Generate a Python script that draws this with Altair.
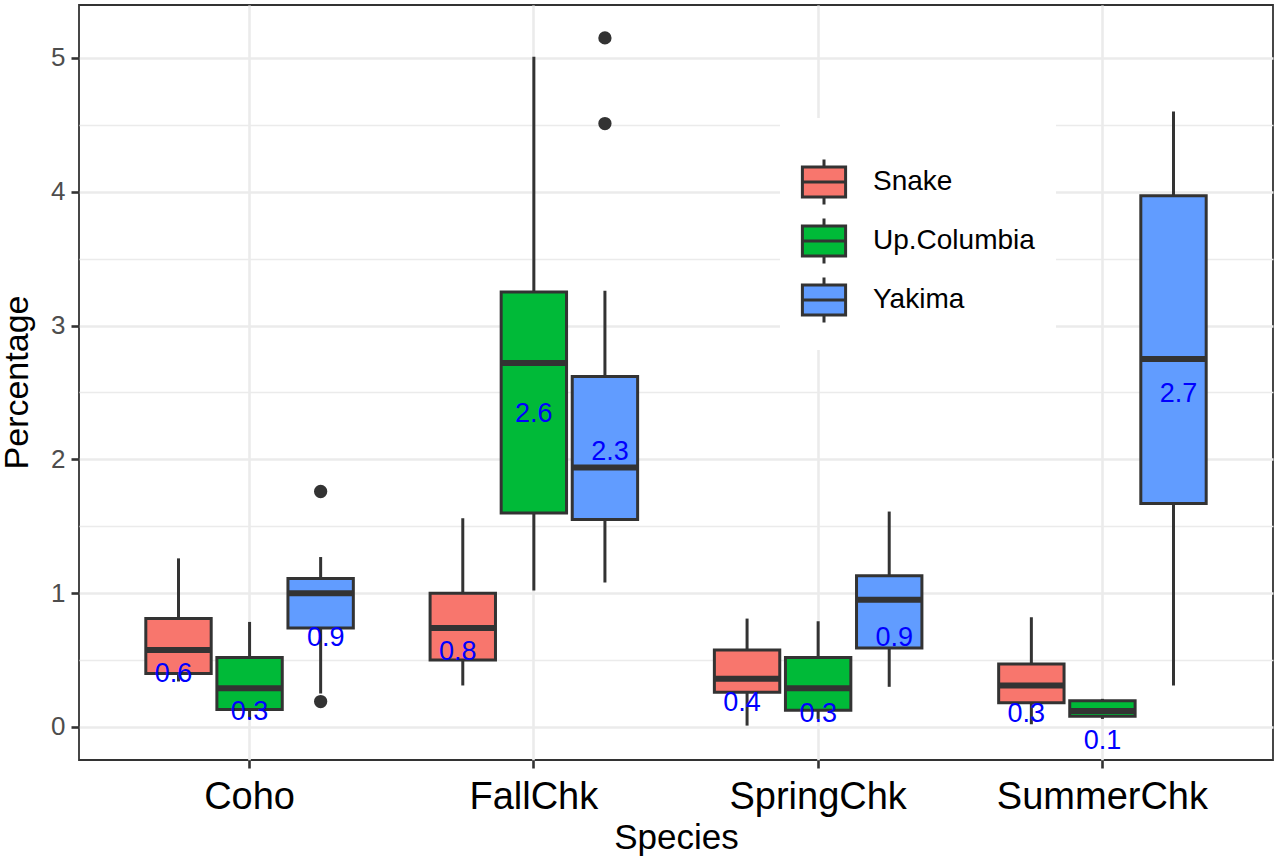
import altair as alt
import pandas as pd

species = ["Coho", "FallChk", "SpringChk", "SummerChk"]
groups = ["Snake", "Up.Columbia", "Yakima"]
colors = ["#F8766D", "#00BA38", "#619CFF"]

box_species = ["Coho"] * 3 + ["FallChk"] * 3 + ["SpringChk"] * 3 + ["SummerChk"] * 3
box_group = groups * 4
whisker_low = [0.34, 0.06, 0.25, 0.31, 1.02, 1.08, 0.01, 0.06, 0.30, 0.02, 0.06, 0.31]
q1 = [0.40, 0.13, 0.74, 0.50, 1.60, 1.55, 0.26, 0.125, 0.59, 0.18, 0.08, 1.67]
median = [0.575, 0.29, 1.00, 0.74, 2.72, 1.94, 0.36, 0.29, 0.95, 0.31, 0.12, 2.75]
q3 = [0.81, 0.52, 1.11, 1.00, 3.25, 2.62, 0.575, 0.52, 1.13, 0.47, 0.195, 3.97]
whisker_high = [1.26, 0.785, 1.27, 1.56, 5.01, 3.26, 0.81, 0.79, 1.61, 0.82, 0.21, 4.60]
mean_value = [0.63, 0.34, 0.90, 0.79, 2.57, 2.29, 0.41, 0.33, 0.90, 0.33, 0.13, 2.72]
mean_label = ["0.6", "0.3", "0.9", "0.8", "2.6", "2.3", "0.4", "0.3", "0.9", "0.3", "0.1", "2.7"]

outlier_species = ["Coho", "Coho", "FallChk", "FallChk"]
outlier_group = ["Yakima", "Yakima", "Yakima", "Yakima"]
outlier_value = [1.76, 0.19, 5.15, 4.51]

y_ticks = [0, 0.5, 1, 1.5, 2, 2.5, 3, 3.5, 4, 4.5, 5]

boxes = pd.DataFrame({
    "species": box_species, "group": box_group, "lo": whisker_low, "q1": q1,
    "med": median, "q3": q3, "hi": whisker_high, "mean": mean_value, "label": mean_label,
})
outliers = pd.DataFrame({"species": outlier_species, "group": outlier_group, "value": outlier_value})

FONT = "Liberation Sans"
DARK = "#333333"

x_enc = alt.X(
    "species:N",
    scale=alt.Scale(domain=species, paddingInner=0, paddingOuter=0.1),
    axis=alt.Axis(
        title="Species", titleFontSize=35, titleFontWeight="normal", titleColor="black",
        titleFont=FONT, titleY=88, titleBaseline="alphabetic",
        labelFontSize=38, labelColor="black", labelFont=FONT, labelAngle=0, labelPadding=10,
        labelLimit=0,
        tickSize=8, tickColor=DARK, tickWidth=2.6, domain=False,
        grid=True, gridColor="#EBEBEB", gridWidth=2.6, bandPosition=0.5,
    ),
)
xo_enc = alt.XOffset("group:N", scale=alt.Scale(domain=groups, paddingInner=0.08, paddingOuter=0.54))

y_scale = alt.Scale(domain=[-0.247, 5.396], nice=False, zero=False)
y_axis = alt.Axis(
    title="Percentage", titleFontSize=34, titleFontWeight="normal", titleColor="black",
    titleFont=FONT, titleX=-52, titleY=377, titleBaseline="alphabetic", titleAngle=270,
    values=y_ticks,
    labelExpr="datum.value % 1 === 0 ? format(datum.value, 'd') : ''",
    labelFontSize=26, labelColor="#4D4D4D", labelFont=FONT, labelPadding=6,
    tickSize=8, tickColor=DARK, tickWidth=2.6,
    tickOpacity={"condition": {"test": "datum.value % 1 !== 0", "value": 0}, "value": 1},
    domain=False, grid=True, gridColor="#EBEBEB",
    gridWidth={"condition": {"test": "datum.value % 1 !== 0", "value": 1.4}, "value": 2.6},
)

legend_path = "M-0.96,-0.67H0.96V0.67H-0.96Z M-0.96,0H0.96 M0,-0.67V-1 M0,0.67V1"

base = alt.Chart(boxes)

whiskers = base.mark_rule(color=DARK, strokeWidth=3).encode(
    x=x_enc, xOffset=xo_enc,
    y=alt.Y("lo:Q", scale=y_scale, axis=y_axis), y2="hi:Q",
)

bars = base.mark_bar(stroke=DARK, strokeWidth=3, opacity=1).encode(
    x=x_enc, xOffset=xo_enc,
    y=alt.Y("q1:Q", scale=y_scale, axis=y_axis), y2="q3:Q",
    color=alt.Color(
        "group:N",
        scale=alt.Scale(domain=groups, range=colors),
        legend=alt.Legend(
            title=" ", titleFontSize=12, titlePadding=8,
            orient="none", legendX=701, legendY=113, fillColor="white", padding=20,
            symbolType=legend_path, symbolSize=2025, symbolStrokeColor=DARK,
            symbolStrokeWidth=3, symbolOpacity=1,
            labelFontSize=28, labelFont=FONT, labelColor="black", labelOffset=25,
            labelLimit=0, rowPadding=1, strokeColor="white",
        ),
    ),
)

medians = base.mark_tick(color=DARK, thickness=6, size=65, orient="horizontal", opacity=1).encode(
    x=x_enc, xOffset=xo_enc, y=alt.Y("med:Q", scale=y_scale, axis=y_axis),
)

points = alt.Chart(outliers).mark_circle(color=DARK, size=177, opacity=1).encode(
    x=x_enc, xOffset=xo_enc, y=alt.Y("value:Q", scale=y_scale, axis=y_axis),
)

label_layers = []
for g, dx in zip(groups, [-5, 0, 5]):
    label_layers.append(
        base.transform_filter(alt.datum.group == g).mark_text(
            color="#0000FF", fontSize=27, font=FONT, baseline="middle", align="center", dy=31, dx=dx,
        ).encode(
            x=x_enc, xOffset=xo_enc, y=alt.Y("mean:Q", scale=y_scale, axis=y_axis), text="label:N",
        )
    )

chart = alt.layer(whiskers, bars, medians, points, *label_layers).properties(
    width=1194, height=755,
    autosize=alt.AutoSizeParams(type="none"),
    padding={"left": 79, "top": 5, "right": 5, "bottom": 100},
).configure(
    background="white", font=FONT,
).configure_view(
    stroke=DARK, strokeWidth=1.8,
)

chart.save("out.html", embed_options={"renderer": "svg", "actions": False})
